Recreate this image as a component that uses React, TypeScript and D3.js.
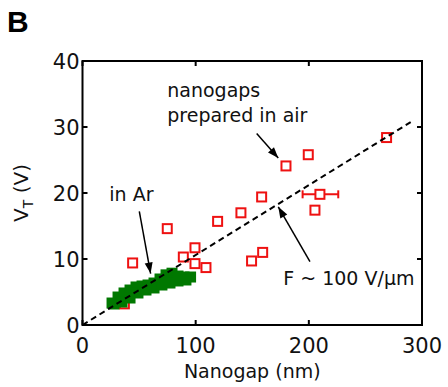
import React from "react";
import * as d3 from "d3";

const airX = [37, 268.7, 199.5, 179.8, 158.3, 209.8, 205.4, 140, 119.4, 74.9, 99.4, 89.1, 99.4, 109.1, 44.3, 149.4, 159.2];
const airY = [3.2, 28.4, 25.8, 24.1, 19.4, 19.8, 17.4, 17.0, 15.7, 14.6, 11.7, 10.3, 9.3, 8.7, 9.4, 9.7, 11.0];
const errX = [{ x: 209.8, y: 19.8, lo: 194.5, hi: 226 }];

const arX = [26.1, 31.4, 36.7, 42.0, 47.3, 52.6, 57.9, 63.2, 68.5, 73.8, 79.1, 84.4, 89.7, 95.5,
  27.8, 34.9, 42.0, 49.0, 56.1, 63.2, 70.2, 77.3, 84.4, 91.4];
const arY = [3.33, 4.24, 4.85, 5.30, 5.76, 5.91, 6.06, 6.36, 6.97, 7.6, 7.85, 7.42, 7.27, 7.27,
  3.18, 3.48, 4.09, 4.85, 5.30, 5.61, 6.06, 6.36, 6.67, 6.82];

const fitSlope = 0.106;
const fitEnd = 290;

const xTicks = [0, 100, 200, 300];
const yTicks = [0, 10, 20, 30, 40];

const W = 448, H = 387;
const FONT = "DejaVu Sans, Verdana, sans-serif";

export default function App() {
  const x = d3.scaleLinear().domain([0, 300]).range([82.5, 422]);
  const y = d3.scaleLinear().domain([0, 40]).range([325, 61]);
  const [x0, x1] = x.range();
  const [y0, y1] = y.range();
  const tl = 5;
  const fs = 21;

  const arrows = [
    { sx: 153.9, sy: 29.0, tx: 173.0, ty: 25.3 },
    { sx: 50.2, sy: 17.2, tx: 60.2, ty: 7.8 },
    { sx: 201, sy: 9.6, tx: 173, ty: 17.9 },
  ];

  const arrowHead = (a: { sx: number; sy: number; tx: number; ty: number }) => {
    const px = x(a.tx), py = y(a.ty);
    const ang = Math.atan2(py - y(a.sy), px - x(a.sx));
    const L = 11, w = 4;
    const bx = px - L * Math.cos(ang), by = py - L * Math.sin(ang);
    const nx = -Math.sin(ang) * w, ny = Math.cos(ang) * w;
    return `M${px},${py}L${bx + nx},${by + ny}L${bx - nx},${by - ny}Z`;
  };

  const s = 9;
  const g = 11;
  return (
    <svg width={W} height={H} style={{ position: "absolute", left: 0, top: 0, background: "#fff" }}>
      <rect x={0} y={0} width={W} height={H} fill="#fff" />
      {errX.map((e, i) => (
        <g key={"e" + i} stroke="#ee1111" strokeWidth={2}>
          <line x1={x(e.lo)} x2={x(e.hi)} y1={y(e.y)} y2={y(e.y)} />
          <line x1={x(e.lo)} x2={x(e.lo)} y1={y(e.y) - 4} y2={y(e.y) + 4} />
          <line x1={x(e.hi)} x2={x(e.hi)} y1={y(e.y) - 4} y2={y(e.y) + 4} />
        </g>
      ))}
      {airX.map((v, i) => (
        <rect key={"a" + i} x={x(v) - s / 2} y={y(airY[i]) - s / 2} width={s} height={s}
          fill="#fff" stroke="#ee1111" strokeWidth={2} />
      ))}
      {arX.map((v, i) => (
        <rect key={"g" + i} x={x(v) - g / 2} y={y(arY[i]) - g / 2} width={g} height={g} fill="#007800" />
      ))}
      <line x1={x(0)} y1={y(0)} x2={x(fitEnd)} y2={y(fitSlope * fitEnd)} stroke="#000" strokeWidth={2} strokeDasharray="6,4" />
      <rect x={x0} y={y1} width={x1 - x0} height={y0 - y1} fill="none" stroke="#000" strokeWidth={2} />
      {xTicks.map((t) => (
        <g key={"xt" + t}>
          <line x1={x(t)} x2={x(t)} y1={y0} y2={y0 - tl} stroke="#000" strokeWidth={2} />
          <line x1={x(t)} x2={x(t)} y1={y1} y2={y1 + tl} stroke="#000" strokeWidth={2} />
          <text x={x(t)} y={y0 + 28} fontSize={fs} fontFamily={FONT} textAnchor="middle" fill="#111">{t}</text>
        </g>
      ))}
      {yTicks.map((t) => (
        <g key={"yt" + t}>
          <line x1={x0} x2={x0 + tl} y1={y(t)} y2={y(t)} stroke="#000" strokeWidth={2} />
          <line x1={x1} x2={x1 - tl} y1={y(t)} y2={y(t)} stroke="#000" strokeWidth={2} />
          <text x={x0 - 3} y={y(t) + 8} fontSize={fs} fontFamily={FONT} textAnchor="end" fill="#111">{t}</text>
        </g>
      ))}
      {arrows.map((a, i) => (
        <g key={"ar" + i}>
          <line x1={x(a.sx)} y1={y(a.sy)} x2={x(a.tx)} y2={y(a.ty)} stroke="#000" strokeWidth={1.5} />
          <path d={arrowHead(a)} fill="#000" />
        </g>
      ))}
      <text x={x(74.9)} y={y(34.6)} fontSize={19} fontFamily={FONT} fill="#111">nanogaps</text>
      <text x={x(74.9)} y={y(30.8)} fontSize={19} fontFamily={FONT} fill="#111">prepared in air</text>
      <text x={x(23.7)} y={y(18.8)} fontSize={19} fontFamily={FONT} fill="#111">in Ar</text>
      <text x={x(177.4)} y={y(6.06)} fontSize={19} fontFamily={FONT} fill="#111"
        stroke="#fff" strokeWidth={6} paintOrder="stroke" strokeLinejoin="round">F ~ 100 V/µm</text>
      <text x={(x0 + x1) / 2} y={378} fontSize={19} fontFamily={FONT} textAnchor="middle" fill="#111">Nanogap (nm)</text>
      <text transform={`translate(28,${(y0 + y1) / 2}) rotate(-90)`} fontSize={20} fontFamily={FONT} textAnchor="middle" fill="#111">
        V<tspan fontSize={14} dy={5}>T</tspan><tspan dy={-5}> (V)</tspan>
      </text>
      <text x={7} y={32} fontSize={30} fontWeight="bold" fontFamily="Liberation Sans, Arial, sans-serif" fill="#000">B</text>
    </svg>
  );
}
